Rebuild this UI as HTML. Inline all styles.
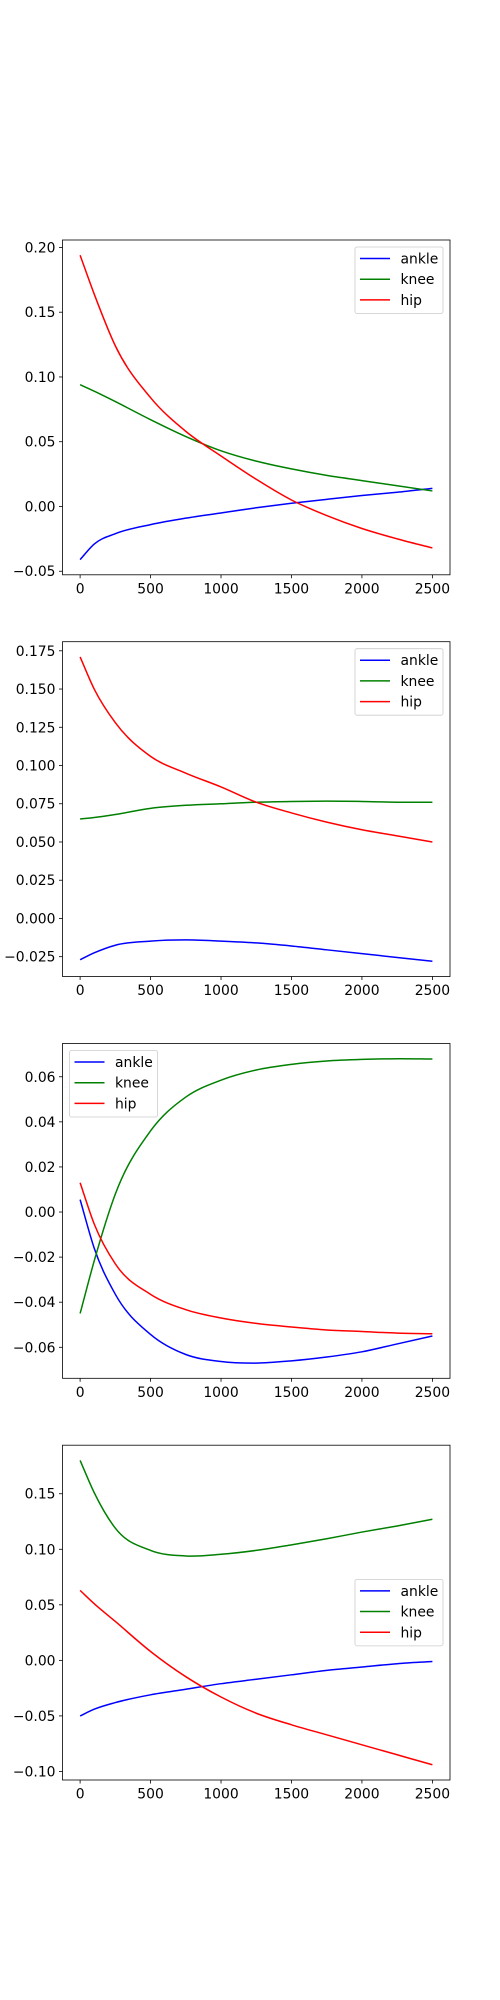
<!DOCTYPE html>
<html><head><meta charset="utf-8"><style>
html,body{margin:0;padding:0;background:#fff;}
svg{display:block;}
text{font-family:"DejaVu Sans","Liberation Sans",sans-serif;font-size:13.9px;fill:#000;}
</style></head><body>
<svg id="fig" width="500" height="2000" viewBox="0 0 500 2000" xmlns="http://www.w3.org/2000/svg"></svg>
<script>
const xs = [0,100,250,500,750,1000,1250,1500,1750,2000,2250,2500];
const seriesNames = ['ankle','knee','hip'];
const seriesColors = ['#0000ff','#008000','#ff0000'];
const xTicks = [0,500,1000,1500,2000,2500];

const ankle1 = [-0.041,-0.029,-0.021,-0.014,-0.009,-0.005,-0.001,0.0025,0.0055,0.0085,0.011,0.014];
const knee1  = [0.094,0.089,0.081,0.067,0.054,0.043,0.035,0.029,0.024,0.020,0.016,0.012];
const hip1   = [0.194,0.164,0.124,0.084,0.058,0.039,0.021,0.005,-0.007,-0.017,-0.025,-0.032];
const yTicks1 = [-0.05,0,0.05,0.10,0.15,0.20];
const yLabels1 = ['−0.05','0.00','0.05','0.10','0.15','0.20'];

const ankle2 = [-0.027,-0.0225,-0.0175,-0.0148,-0.014,-0.0148,-0.016,-0.018,-0.0205,-0.023,-0.0255,-0.028];
const knee2  = [0.065,0.066,0.068,0.072,0.074,0.075,0.076,0.0765,0.0767,0.0765,0.076,0.076];
const hip2   = [0.171,0.150,0.128,0.106,0.095,0.086,0.076,0.069,0.063,0.058,0.054,0.050];
const yTicks2 = [-0.025,0,0.025,0.05,0.075,0.10,0.125,0.15,0.175];
const yLabels2 = ['−0.025','0.000','0.025','0.050','0.075','0.100','0.125','0.150','0.175'];

const ankle3 = [0.0055,-0.016,-0.0365,-0.0543,-0.0632,-0.0663,-0.067,-0.066,-0.0643,-0.062,-0.0585,-0.055];
const knee3  = [-0.045,-0.0217,0.008,0.036,0.051,0.0585,0.063,0.0655,0.067,0.0677,0.068,0.0679];
const hip3   = [0.013,-0.0053,-0.023,-0.0365,-0.0433,-0.047,-0.0494,-0.051,-0.0523,-0.053,-0.0537,-0.054];
const yTicks3 = [-0.06,-0.04,-0.02,0,0.02,0.04,0.06];
const yLabels3 = ['−0.06','−0.04','−0.02','0.00','0.02','0.04','0.06'];

const ankle4 = [-0.050,-0.044,-0.038,-0.031,-0.026,-0.021,-0.017,-0.013,-0.009,-0.006,-0.003,-0.001];
const knee4  = [0.180,0.151,0.119,0.099,0.094,0.0955,0.099,0.104,0.1095,0.1155,0.121,0.127];
const hip4   = [0.063,0.051,0.035,0.008,-0.0147,-0.033,-0.0476,-0.058,-0.067,-0.076,-0.085,-0.094];
const yTicks4 = [-0.10,-0.05,0,0.05,0.10,0.15];
const yLabels4 = ['−0.10','−0.05','0.00','0.05','0.10','0.15'];

const NS='http://www.w3.org/2000/svg';
const svg=document.getElementById('fig');
function mk(tag,attrs,parent){const e=document.createElementNS(NS,tag);for(const k in attrs)e.setAttribute(k,attrs[k]);(parent||svg).appendChild(e);return e;}

const AX_L=62.5, AX_R=450;
const tops=[240,641.7,1043.5,1445.2], bots=[574.8,976.5,1378.3,1780];
const panels=[
 {data:[ankle1,knee1,hip1],yt:yTicks1,yl:yLabels1,legend:'ur'},
 {data:[ankle2,knee2,hip2],yt:yTicks2,yl:yLabels2,legend:'ur'},
 {data:[ankle3,knee3,hip3],yt:yTicks3,yl:yLabels3,legend:'ul'},
 {data:[ankle4,knee4,hip4],yt:yTicks4,yl:yLabels4,legend:'cr'}
];

function slopes(x,y){
  const n=x.length, m=[];
  for(let k=0;k<n;k++){
    if(k===0) m.push((y[1]-y[0])/(x[1]-x[0]));
    else if(k===n-1) m.push((y[n-1]-y[n-2])/(x[n-1]-x[n-2]));
    else {
      const d0=(y[k]-y[k-1])/(x[k]-x[k-1]), d1=(y[k+1]-y[k])/(x[k+1]-x[k]);
      const h0=x[k]-x[k-1], h1=x[k+1]-x[k];
      m.push((d0*h1+d1*h0)/(h0+h1));
    }
  }
  return m;
}

panels.forEach((p,i)=>{
  const g=mk('g',{});
  
  
  const top=tops[i], bot=bots[i];
  const xmin0=Math.min(...xs), xmax0=Math.max(...xs), xm=(xmax0-xmin0)*0.05;
  const xmin=xmin0-xm, xmax=xmax0+xm;
  let all=[].concat(...p.data); let ymin0=Math.min(...all), ymax0=Math.max(...all), ym=(ymax0-ymin0)*0.05;
  const ymin=ymin0-ym, ymax=ymax0+ym;
  const X=v=>AX_L+(v-xmin)/(xmax-xmin)*(AX_R-AX_L);
  const Y=v=>bot-(v-ymin)/(ymax-ymin)*(bot-top);
  p.data.forEach((arr,s)=>{
    const m=slopes(xs,arr);
    let d='M'+X(xs[0]).toFixed(2)+','+Y(arr[0]).toFixed(2);
    for(let k=0;k<xs.length-1;k++){
      const h=xs[k+1]-xs[k];
      const c1x=xs[k]+h/3, c1y=arr[k]+m[k]*h/3;
      const c2x=xs[k+1]-h/3, c2y=arr[k+1]-m[k+1]*h/3;
      d+=' C'+X(c1x).toFixed(2)+','+Y(c1y).toFixed(2)+' '+X(c2x).toFixed(2)+','+Y(c2y).toFixed(2)+' '+X(xs[k+1]).toFixed(2)+','+Y(arr[k+1]).toFixed(2);
    }
    const path=mk('path',{d:d,fill:'none',stroke:seriesColors[s],'stroke-width':1.5},g);
    
    
  });
  const fr=mk('rect',{x:AX_L,y:top,width:AX_R-AX_L,height:bot-top,fill:'none',stroke:'#000','stroke-width':0.8},g);
  
  
  xTicks.forEach(t=>{
    const x=X(t);
    mk('line',{x1:x,x2:x,y1:bot,y2:bot+3.5,stroke:'#000','stroke-width':0.8},g);
    const tx=mk('text',{x:x,y:bot+18.5,'text-anchor':'middle'},g);
    tx.textContent=String(t);
    
    
  });
  p.yt.forEach((t,k)=>{
    const y=Y(t);
    mk('line',{x1:AX_L-3.5,x2:AX_L,y1:y,y2:y,stroke:'#000','stroke-width':0.8},g);
    const tx=mk('text',{x:AX_L-7,y:y+5,'text-anchor':'end'},g);
    tx.textContent=p.yl[k];
    
    
  });
  const lw=88, lh=66.5;
  let lx,ly;
  if(p.legend==='ur'){lx=AX_R-7-lw; ly=top+7;}
  else if(p.legend==='ul'){lx=AX_L+7; ly=top+7;}
  else {lx=AX_R-7-lw; ly=(top+bot)/2-lh/2;}
  const lg=mk('g',{},g);
  
  
  mk('rect',{x:lx,y:ly,width:lw,height:lh,rx:2,fill:'#fff','fill-opacity':0.8,stroke:'#cccccc','stroke-width':0.8},lg);
  seriesNames.forEach((n,s)=>{
    const cy=ly+11.5+s*20.7;
    const e=mk('g',{},lg);
    
    
    mk('line',{x1:lx+5,x2:lx+35,y1:cy,y2:cy,stroke:seriesColors[s],'stroke-width':1.5},e);
    const tx=mk('text',{x:lx+45.5,y:cy+5},e);
    tx.textContent=n;
  });
});
</script>
</body></html>
